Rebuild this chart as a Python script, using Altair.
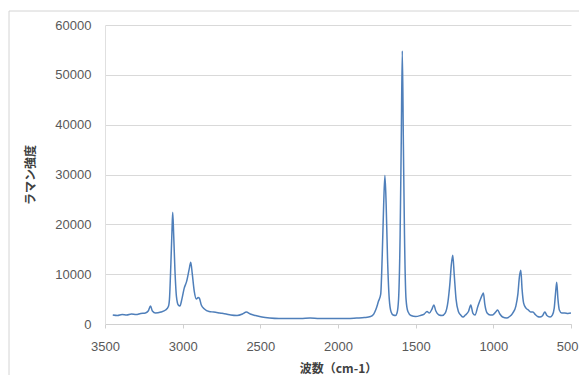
import altair as alt
import pandas as pd

# Raman spectrum (wavenumber cm-1, intensity)
wavenumber = [
    3450, 3420, 3390, 3360, 3330, 3300, 3270, 3240, 3222, 3207, 3195, 3175, 3140, 3110,
    3092, 3085, 3076, 3069, 3064, 3058, 3050, 3040, 3028, 3018, 3005, 2990, 2975, 2958,
    2948, 2938, 2925, 2912, 2900, 2893, 2880, 2860, 2830, 2800, 2760, 2720, 2690, 2650,
    2615, 2590, 2565, 2530, 2490, 2440, 2380, 2300, 2240, 2180, 2120, 2060, 2000, 1940,
    1880, 1830, 1790, 1770, 1755, 1740, 1725, 1715, 1706, 1698, 1690, 1681, 1670, 1658,
    1645, 1630, 1620, 1610, 1600, 1593, 1586, 1579, 1572, 1562, 1550, 1530, 1500, 1470,
    1445, 1427, 1412, 1395, 1383, 1370, 1350, 1330, 1310, 1292, 1280, 1270, 1261, 1252,
    1240, 1225, 1210, 1195, 1180, 1160, 1145, 1132, 1118, 1100, 1085, 1072, 1064, 1055,
    1040, 1020, 1005, 985, 972, 958, 940, 915, 895, 875, 855, 842, 832, 823, 815, 805,
    790, 775, 760, 745, 730, 715, 700, 685, 668, 655, 635, 620, 608, 600, 592, 584, 575,
    560, 540, 520, 500,
]
intensity = [
    1800, 1700, 1900, 1800, 2000, 1900, 2100, 2200, 2600, 3600, 2600, 2200, 2400, 2800,
    3500, 5000, 12000, 18500, 22400, 18000, 11000, 5500, 3800, 3600, 5000, 7200, 8500, 11000,
    12400, 10000, 6500, 5000, 5300, 5200, 3800, 3000, 2500, 2400, 2200, 2000, 1800, 1700,
    2000, 2400, 2000, 1700, 1400, 1200, 1100, 1100, 1100, 1200, 1100, 1100, 1100, 1100,
    1200, 1300, 1500, 2000, 3000, 4500, 6000, 14000, 24000, 29800, 24000, 13000, 5000, 2400,
    1800, 1700, 2200, 5000, 18000, 36000, 54800, 36000, 18000, 5000, 2500, 1700, 1500, 1700,
    2000, 2500, 2200, 3000, 3800, 2600, 1800, 1700, 2200, 4500, 8000, 12000, 13800, 10000,
    5000, 2500, 1800, 1400, 1800, 2500, 3800, 2200, 1800, 3500, 4800, 5800, 6200, 4000,
    2200, 1800, 1800, 2400, 2800, 2000, 1400, 1200, 1500, 2200, 3600, 6000, 9500, 10800, 7000, 4200,
    3200, 2800, 2400, 2400, 1900, 1500, 1400, 1600, 2400, 1700, 1400, 1800, 3200, 6000, 8400, 5000, 2800,
    2200, 2200, 2100, 2200,
]
x_ticks = [3500, 3000, 2500, 2000, 1500, 1000, 500]
y_ticks = [0, 10000, 20000, 30000, 40000, 50000, 60000]

df = pd.DataFrame({"wn": wavenumber, "I": intensity})

W, H = 466, 299

line = alt.Chart(df).mark_line(
    color="#4f7fba", strokeWidth=1.5, interpolate="monotone", clip=True
).encode(
    x=alt.X(
        "wn:Q",
        scale=alt.Scale(domain=[500, 3500], reverse=True, nice=False, zero=False),
        axis=alt.Axis(
            values=x_ticks, format="d", grid=False, title="波数（cm-1）",
            labelFlush=False, labelOverlap=False,
            labelAlign={"condition": {"test": "datum.value == 500", "value": "right"}, "value": "center"},
            labelOffset={"condition": {"test": "datum.value == 500", "value": 7}, "value": 0},
            labelFont="Liberation Sans", labelFontSize=13, labelColor="#595959",
            labelPadding=12, tickSize=4, tickColor="#d0d0d0",
            domainColor="#d0d0d0", domainWidth=1,
            titleFont="Noto Sans CJK JP", titleFontWeight="bold", titleFontSize=12,
            titleColor="#404040", titleX=W / 2, titleY=44, titleBaseline="middle",
            titleAlign="center",
        ),
    ),
    y=alt.Y(
        "I:Q",
        scale=alt.Scale(domain=[0, 60000], nice=False),
        axis=alt.Axis(
            values=y_ticks, format="d", grid=True, gridColor="#d9d9d9", gridWidth=1.2,
            labelFlush=False,
            title="ラマン強度", labelFont="Liberation Sans", labelFontSize=13,
            labelColor="#595959", labelPadding=14, ticks=False,
            domainColor="#e0e0e0", domainWidth=1,
            titleFont="Noto Sans CJK JP", titleFontWeight="bold", titleFontSize=12,
            titleColor="#404040", titleAngle=-90, titleX=-75, titleY=H / 2,
            titleAlign="center", titleBaseline="middle",
        ),
    ),
)

border = alt.Chart(pd.DataFrame({"a": [0]})).mark_rect(
    fill=None, stroke="#d4d4d4", strokeWidth=1, clip=False
).encode(
    x=alt.value(-96), x2=alt.value(479), y=alt.value(-14), y2=alt.value(361)
)

chart = alt.layer(border, line).properties(
    width=W, height=H,
    autosize=alt.AutoSizeParams(type="none"),
    padding={"left": 97, "top": 17, "right": 8, "bottom": 51},
    background="white",
).configure_view(stroke=None)

chart.save("out.html", embed_options={"renderer": "svg", "actions": False})
